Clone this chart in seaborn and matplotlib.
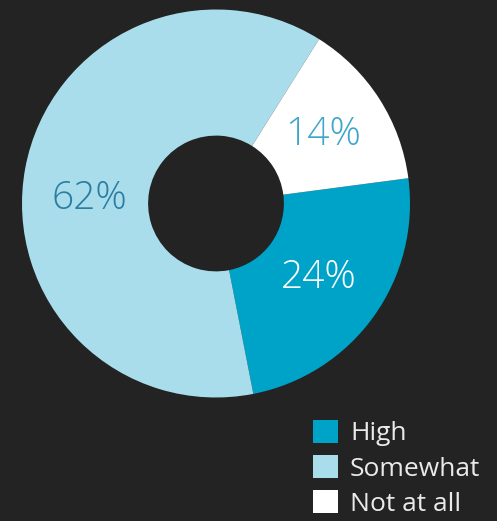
import numpy as np
import matplotlib
matplotlib.use("Agg")
import matplotlib.pyplot as plt
from matplotlib.patches import Patch
import seaborn as sns

# Survey shares
categories = ["High", "Somewhat", "Not at all"]
shares = [24, 62, 14]
slice_colors = ["#00A3C8", "#A9DDEC", "#FFFFFF"]
label_colors = ["#FFFFFF", "#2B7DA2", "#3EA6CB"]

BG = "#232323"

sns.set_theme(style="dark")
plt.rcParams["font.family"] = ["Open Sans", "DejaVu Sans"]

W, H = 497, 521
fig = plt.figure(figsize=(W / 100, H / 100), dpi=100, facecolor=BG)
ax = fig.add_axes([0, 0, 1, 1])
ax.set_facecolor(BG)

cx, cy, R = 216, H - 203.5, 194
wedges, _ = ax.pie(
    shares,
    colors=slice_colors,
    startangle=7.5,
    counterclock=False,
    radius=R,
    center=(cx, cy),
    frame=True,
    wedgeprops=dict(width=R * 0.65, linewidth=0),
)
ax.set_xlim(0, W)
ax.set_ylim(0, H)
ax.set_aspect("equal")
ax.axis("off")

# Percent labels inside the ring
label_r = R * 0.655
for i, (w, v) in enumerate(zip(wedges, shares)):
    ang = np.deg2rad((w.theta1 + w.theta2) / 2)
    if categories[i] == "Somewhat":
        ang = np.deg2rad(178)
    ax.text(cx + label_r * np.cos(ang), cy + label_r * np.sin(ang), f"{v}%",
            ha="center", va="center", fontsize=28, fontweight="light",
            color=label_colors[i])

handles = [Patch(facecolor=c, edgecolor="none") for c in slice_colors]
leg = ax.legend(handles, categories, loc="upper left",
                bbox_to_anchor=(313 / W, 1 - 420 / H), frameon=False,
                fontsize=19, handlelength=0.95, handleheight=0.95,
                handletextpad=0.45, labelspacing=0.33, borderpad=0,
                borderaxespad=0)
for t in leg.get_texts():
    t.set_color("#EAEAEA")

fig.savefig("out.png", dpi=100, facecolor=BG)
